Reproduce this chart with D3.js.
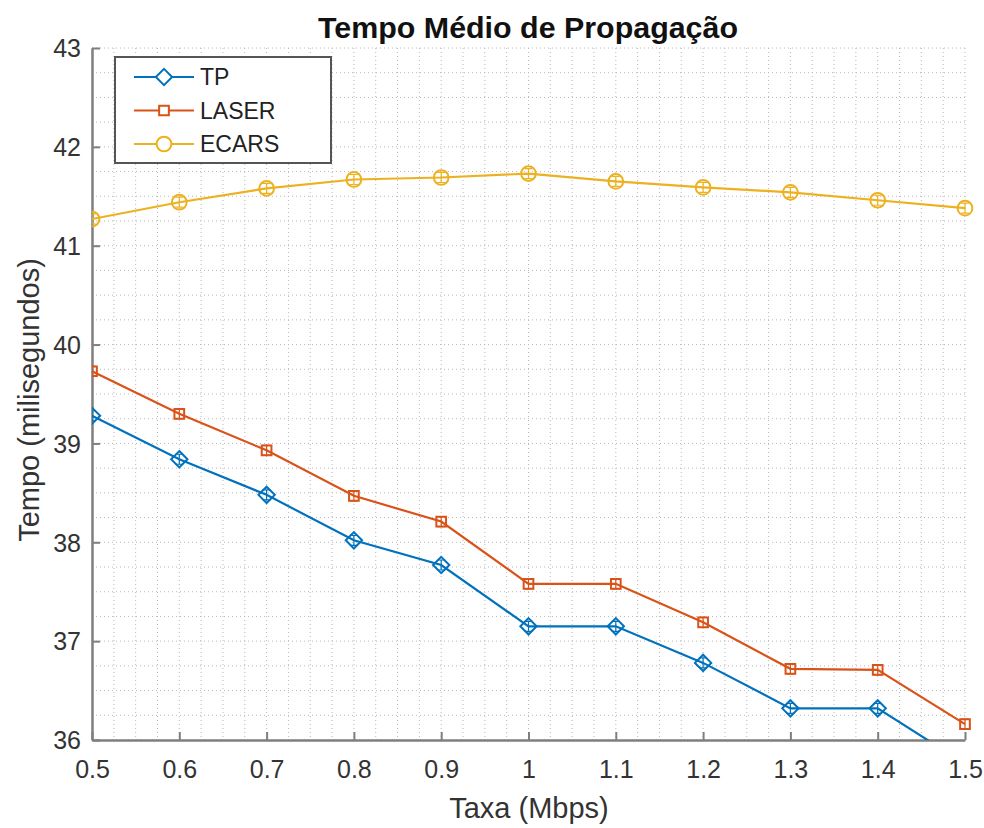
<!DOCTYPE html>
<html>
<head>
<meta charset="utf-8">
<script src="https://cdn.jsdelivr.net/npm/d3@7"></script>
<style>
  body { margin: 0; background: #fff; }
  svg text { font-family: "Liberation Sans", Arial, Helvetica, sans-serif; }
</style>
</head>
<body>
<svg id="chart" width="984" height="828"></svg>
<script>
// Propagation delay data (milliseconds) per rate (Mbps)
const taxa = [0.5, 0.6, 0.7, 0.8, 0.9, 1.0, 1.1, 1.2, 1.3, 1.4, 1.5];
const tp    = [39.28, 38.84, 38.48, 38.02, 37.77, 37.15, 37.15, 36.78, 36.32, 36.32, 35.76];
const laser = [39.73, 39.30, 38.93, 38.47, 38.21, 37.58, 37.58, 37.19, 36.72, 36.71, 36.16];
const ecars = [41.27, 41.44, 41.58, 41.67, 41.69, 41.73, 41.65, 41.59, 41.54, 41.46, 41.38];
const seriesNames = ["TP", "LASER", "ECARS"];
const xTicks = [0.5, 0.6, 0.7, 0.8, 0.9, 1, 1.1, 1.2, 1.3, 1.4, 1.5];
const yTicks = [36, 37, 38, 39, 40, 41, 42, 43];

const colors = ["#0072BD", "#D95319", "#EDB120"];
const symbols = ["diamond", "square", "circle"];
const seriesData = [tp, laser, ecars];

const svg = d3.select("#chart");
const mLeft = 92, mRight = 965, mTop = 48, mBottom = 740;

const x = d3.scaleLinear().domain([0.5, 1.5]).range([mLeft, mRight]);
const y = d3.scaleLinear().domain([36, 43]).range([mBottom, mTop]);

// Grid: fine dotted lines at minor spacing
const grid = svg.append("g");
const xMinor = d3.range(0.5, 1.5001, 0.025);
const yMinor = d3.range(36, 43.0001, 0.25);
grid.selectAll("line.gx").data(xMinor).join("line")
  .attr("x1", d => x(d)).attr("x2", d => x(d))
  .attr("y1", mTop).attr("y2", mBottom)
  .attr("stroke", "#b8b8b8").attr("stroke-width", 1)
  .attr("stroke-dasharray", "1,3");
grid.selectAll("line.gy").data(yMinor).join("line")
  .attr("y1", d => y(d)).attr("y2", d => y(d))
  .attr("x1", mLeft).attr("x2", mRight)
  .attr("stroke", "#b8b8b8").attr("stroke-width", 1)
  .attr("stroke-dasharray", "1,3");

// Axes
const axisColor = "#7f7f7f";
const fmt = d => String(+d.toFixed(2));
const xAxis = d3.axisBottom(x).tickValues(xTicks).tickSizeInner(-8).tickSizeOuter(0)
  .tickFormat(fmt).tickPadding(20);
const yAxis = d3.axisLeft(y).tickValues(yTicks).tickSizeInner(-8).tickSizeOuter(0)
  .tickFormat(fmt).tickPadding(11);

const gx = svg.append("g").attr("transform", `translate(0,${mBottom})`).call(xAxis);
const gy = svg.append("g").attr("transform", `translate(${mLeft},0)`).call(yAxis);
[gx, gy].forEach(g => {
  g.attr("font-size", null).attr("font-family", null);
  g.select(".domain").attr("stroke", axisColor).attr("stroke-width", 2.5);
  g.selectAll(".tick line").attr("stroke", axisColor).attr("stroke-width", 2);
  g.selectAll(".tick text").attr("fill", "#333").style("font-size", "25px")
    .style("font-family", "'Liberation Sans', Arial, sans-serif");
});
gy.selectAll(".tick text").attr("dy", "0.35em");

// Series
svg.append("clipPath").attr("id", "plotClip")
  .append("rect").attr("x", mLeft).attr("y", mTop - 10)
  .attr("width", mRight - mLeft + 10).attr("height", mBottom - mTop + 10);

const line = d3.line().x((d, i) => x(taxa[i])).y(d => y(d));
const symType = { diamond: d3.symbolDiamond2, square: d3.symbolSquare2, circle: d3.symbolCircle };
const symSize = { diamond: 170, square: 120, circle: 170 };

const plot = svg.append("g").attr("clip-path", "url(#plotClip)");
seriesData.forEach((vals, s) => {
  plot.append("path").datum(vals)
    .attr("d", line).attr("fill", "none")
    .attr("stroke", colors[s]).attr("stroke-width", 2.2);
  const pts = plot.append("g").selectAll("g").data(vals).join("g")
    .attr("transform", (d, i) => `translate(${x(taxa[i])},${y(d)})`);
  pts.append("path")
    .attr("d", d3.symbol().type(symType[symbols[s]]).size(symSize[symbols[s]]))
    .attr("fill", "none").attr("stroke", colors[s]).attr("stroke-width", 2);
  // small error bar inside each marker
  pts.append("path")
    .attr("d", "M0,-5V5M-4,-5H4M-4,5H4")
    .attr("fill", "none").attr("stroke", colors[s]).attr("stroke-width", 1.2);
});

// Title and axis labels
svg.append("text").attr("x", 528).attr("y", 38).attr("text-anchor", "middle")
  .style("font-family", "'Liberation Sans Narrow', 'Liberation Sans', Arial, sans-serif")
  .attr("font-size", 29).attr("font-weight", "bold").attr("fill", "#111")
  .attr("textLength", 420).attr("lengthAdjust", "spacingAndGlyphs")
  .text("Tempo Médio de Propagação");
svg.append("text").attr("x", 529).attr("y", 818).attr("text-anchor", "middle")
  .attr("font-size", 29).attr("fill", "#333").text("Taxa (Mbps)");
svg.append("text").attr("transform", "translate(39,400) rotate(-90)")
  .attr("text-anchor", "middle").attr("font-size", 29).attr("fill", "#333")
  .text("Tempo (milisegundos)");

// Legend
const lg = svg.append("g").attr("transform", "translate(115,57)");
lg.append("rect").attr("width", 216).attr("height", 106)
  .attr("fill", "#fff").attr("stroke", "#555").attr("stroke-width", 2);
seriesNames.forEach((name, s) => {
  const ry = 20 + s * 33.5;
  lg.append("line").attr("x1", 19).attr("x2", 79).attr("y1", ry).attr("y2", ry)
    .attr("stroke", colors[s]).attr("stroke-width", 2);
  lg.append("path").attr("transform", `translate(49,${ry})`)
    .attr("d", d3.symbol().type(symType[symbols[s]]).size(symSize[symbols[s]]))
    .attr("fill", "#fff").attr("stroke", colors[s]).attr("stroke-width", 2);
  lg.append("text").attr("x", 85).attr("y", ry + 8).attr("font-size", 23)
    .attr("fill", "#222").text(name);
});
</script>
</body>
</html>
